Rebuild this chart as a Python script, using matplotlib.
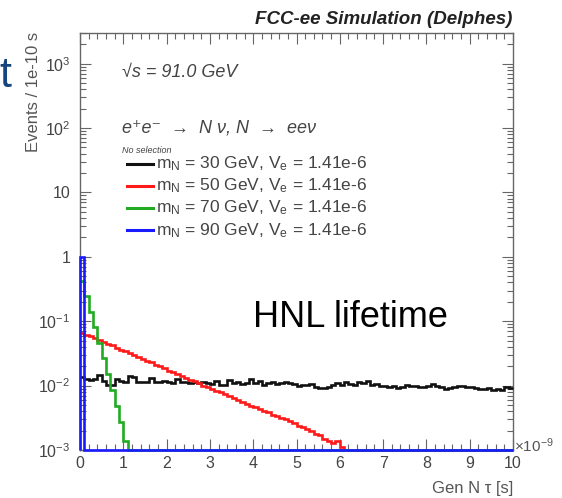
import matplotlib.pyplot as plt
import numpy as np
from matplotlib.ticker import MultipleLocator, LogLocator, NullFormatter

plt.rcParams['font.family'] = ['Liberation Sans', 'DejaVu Sans']
plt.rcParams['mathtext.fontset'] = 'custom'
plt.rcParams['mathtext.rm'] = 'Liberation Sans'
plt.rcParams['mathtext.it'] = 'Liberation Sans:italic'
plt.rcParams['mathtext.bf'] = 'Liberation Sans:bold'

# histogram: 100 bins of 1e-10 s between 0 and 10e-9 s (x axis in units of 1e-9 s)
n_bins = 100
x_lo, x_hi = 0.0, 10.0
y_lo, y_hi = 1e-3, 3e3

# events per bin (empty bins after the listed ones)
tau_30 = [0.0135, 0.0125, 0.0122, 0.0125, 0.0148, 0.0120, 0.0104, 0.0102, 0.0125, 0.0118,
          0.0115, 0.0140, 0.0138, 0.0115, 0.0112, 0.0113, 0.0130, 0.0115, 0.0112, 0.0118,
          0.0114, 0.0110, 0.0128, 0.0112, 0.0113, 0.0110, 0.0115, 0.0108, 0.0112, 0.0110,
          0.0106, 0.0118, 0.0104, 0.0102, 0.0122, 0.0108, 0.0112, 0.0105, 0.0110, 0.0128,
          0.0110, 0.0116, 0.0104, 0.0108, 0.0112, 0.0106, 0.0110, 0.0115, 0.0108, 0.0106,
          0.0100, 0.0104, 0.0102, 0.0106, 0.0094, 0.0092, 0.0092, 0.0095, 0.0102, 0.0110,
          0.0104, 0.0114, 0.0106, 0.0102, 0.0112, 0.0108, 0.0118, 0.0102, 0.0106, 0.0100,
          0.0100, 0.0096, 0.0098, 0.0092, 0.0094, 0.0102, 0.0098, 0.0100, 0.0094, 0.0096,
          0.0098, 0.0106, 0.0098, 0.0096, 0.0090, 0.0092, 0.0094, 0.0100, 0.0098, 0.0096,
          0.0094, 0.0092, 0.0088, 0.0090, 0.0092, 0.0086, 0.0090, 0.0086, 0.0096, 0.0092]
tau_50 = [0.066, 0.062, 0.058, 0.055, 0.051, 0.047, 0.045, 0.042, 0.039, 0.036,
          0.034, 0.032, 0.030, 0.028, 0.026, 0.024, 0.023, 0.021, 0.020, 0.019,
          0.017, 0.016, 0.015, 0.014, 0.013, 0.0122, 0.0117, 0.0108, 0.0100, 0.0095,
          0.0089, 0.0083, 0.0079, 0.0073, 0.0068, 0.0064, 0.0060, 0.0055, 0.0052, 0.0049,
          0.0046, 0.0044, 0.0040, 0.0039, 0.0035, 0.0034, 0.0031, 0.0030, 0.0028, 0.0026,
          0.0024, 0.0023, 0.0021, 0.0020, 0.0018, 0.0017, 0.0015, 0.0014, 0.0013, 0.0014,
          0.0011]
tau_70 = [0.42, 0.25, 0.14, 0.080, 0.046, 0.027, 0.015, 0.0085, 0.0048, 0.0027, 0.0014]
tau_90 = [1.0]

masses = [30, 50, 70, 90]
colors = ['#111111', '#ff1a1a', '#22aa22', '#1a1aff']
y_ticks = [1e-3, 1e-2, 1e-1, 1, 10, 1e2, 1e3]
y_tick_labels = [r'$10^{-3}$', r'$10^{-2}$', r'$10^{-1}$', '1', '10', r'$10^{2}$', r'$10^{3}$']


def pad(values):
    return np.concatenate([values, np.zeros(n_bins - len(values))])


fig = plt.figure(figsize=(5.62, 4.98), dpi=100)
ax = fig.add_axes([80 / 562, 48 / 498, 433 / 562, 417 / 498])

edges = np.linspace(x_lo, x_hi, n_bins + 1)
for values, color in zip([tau_30, tau_50, tau_70, tau_90], colors):
    # ROOT draws empty / too small bins on the lower edge of the frame
    base = y_lo if color == colors[-1] else None
    ax.stairs(np.clip(pad(values), y_lo, None), edges, baseline=base,
              color=color, lw=1.9, zorder=3, clip_on=False)

ax.set_yscale('log')
ax.set_xlim(x_lo, x_hi)
ax.set_ylim(y_lo, y_hi)
ax.set_xticks(range(0, 11))
ax.xaxis.set_minor_locator(MultipleLocator(0.2))
ax.set_yticks(y_ticks)
ax.set_yticklabels(y_tick_labels)
ax.yaxis.set_minor_locator(LogLocator(base=10, subs=np.arange(2, 10)))
ax.yaxis.set_minor_formatter(NullFormatter())

for sp in ax.spines.values():
    sp.set_color('#666666')
    sp.set_linewidth(1.0)
ax.tick_params(which='both', direction='in', top=True, right=True,
               color='#666666', width=0.8, labelcolor='#444444', labelsize=11.5)
ax.tick_params(which='major', length=8)
ax.tick_params(which='minor', length=4)
ax.tick_params(axis='y', pad=7)
ax.tick_params(axis='x', pad=4)

# texts around the frame
fig.text(512 / 562, 1 - 24 / 498, 'FCC-ee Simulation (Delphes)', ha='right', va='baseline',
         fontsize=13.5, fontweight='bold', style='italic', color='#222222')
fig.text(33 / 562, 1 - 32 / 498, 'Events / 1e-10 s', rotation=90, ha='center', va='top',
         fontsize=12, color='#555555')
fig.text(513 / 562, 1 - 488 / 498, 'Gen N \u03c4 [s]', ha='right', va='center',
         fontsize=12, color='#555555')
fig.text(514 / 562, 1 - 446 / 498, r'$\times10^{-9}$', ha='left', va='center',
         fontsize=11, color='#555555')

# labels inside the frame
ax.text(0.097, 0.906, '\u221as = 91.0 GeV', transform=ax.transAxes, ha='left', va='center',
        fontsize=13, style='italic', color='#444444')
ax.text(0.097, 0.772, 'e\u207ae\u207b  \u2192  N \u03bd, N  \u2192  ee\u03bd', transform=ax.transAxes,
        ha='left', va='center', fontsize=13, style='italic', color='#444444')
ax.text(0.097, 0.719, 'No selection', transform=ax.transAxes, ha='left', va='center',
        fontsize=6.5, style='italic', color='#444444')
for i, (m, color) in enumerate(zip(masses, colors)):
    y = 0.686 - i * 0.053
    ax.plot([0.109, 0.169], [y, y], transform=ax.transAxes, color=color, lw=2.2)
    ax.text(0.175, y, r'$\mathregular{m_N}$ = %d GeV, $\mathregular{V_e}$ = 1.41e-6' % m,
            transform=ax.transAxes, ha='left', va='center', fontsize=12.5, color='#444444')

# slide overlay
fig.text(253 / 562, 1 - 327 / 498, 'HNL lifetime', ha='left', va='baseline',
         fontsize=26, color='black')
fig.text(-0.002, 1 - 87 / 498, 't', ha='left', va='baseline', fontsize=31, color='#17467f')

fig.savefig('out.png', dpi=100)
